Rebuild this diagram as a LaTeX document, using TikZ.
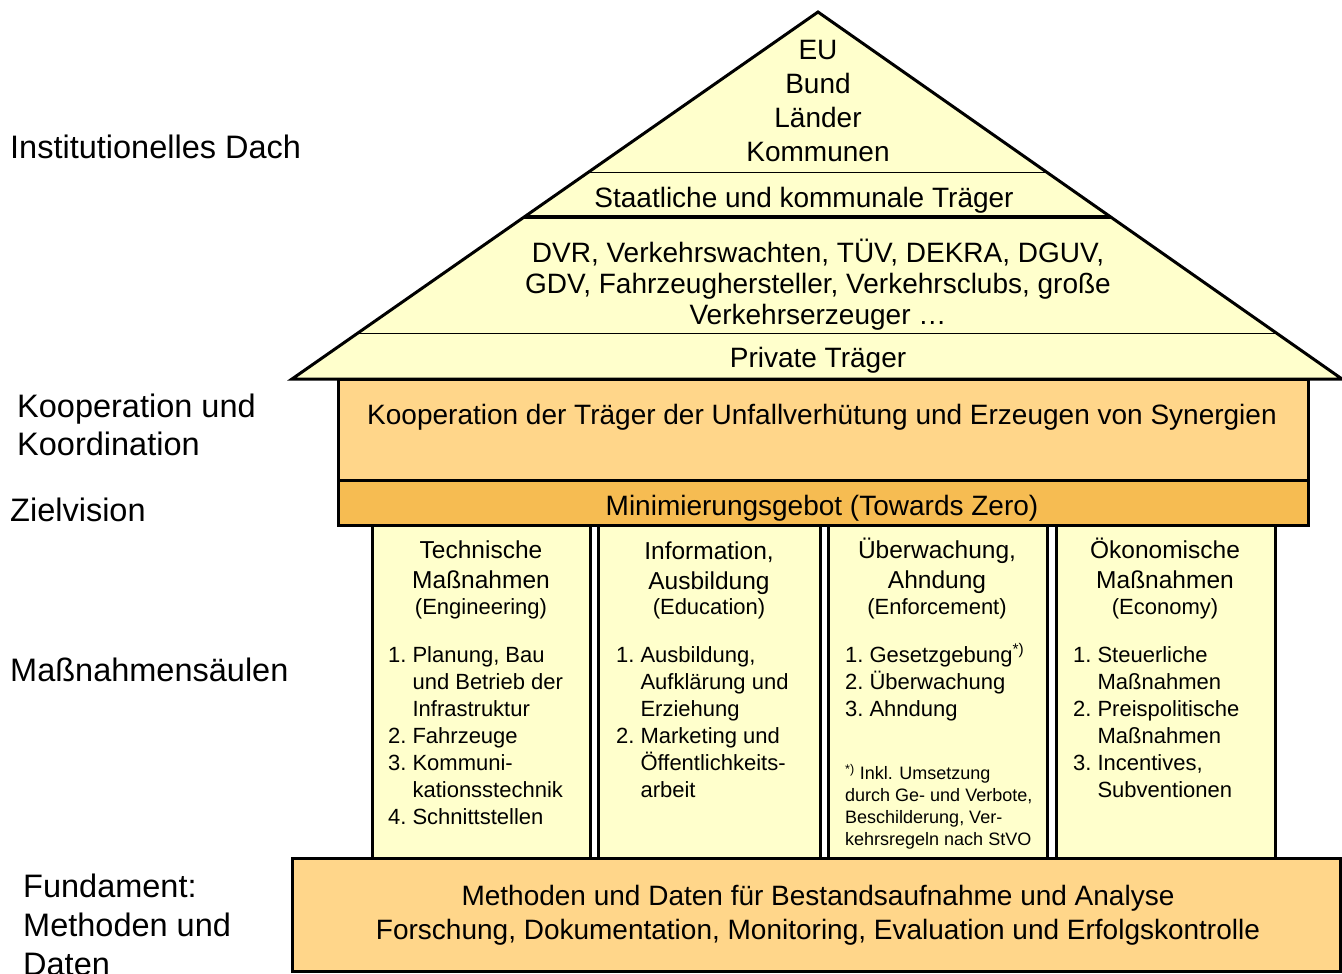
\documentclass[tikz,border=0pt]{standalone}
\usepackage{fontspec}
\setmainfont{Liberation Sans}
\usepackage{tikz}
\usetikzlibrary{positioning}
\usetikzlibrary{calc}
\definecolor{dachgelb}{HTML}{FFFFCC}
\definecolor{hellorange}{HTML}{FFD68A}
\definecolor{zielorange}{HTML}{F6BC52}
\tikzset{
  txt/.style = {inner sep=0pt, align=center,
    font=\fontsize{28}{34}\selectfont},% Text im Haus
  lbl/.style = {inner sep=0pt, anchor=west, align=left,
    font=\fontsize{32.5}{39}\selectfont},% Beschriftung links
  kopf/.style = {inner sep=0pt, align=center,
    font=\fontsize{24.5}{30}\selectfont},% Kopf der Saeule
  unterkopf/.style = {inner sep=0pt, font=\fontsize{22}{27}\selectfont},% englischer Begriff
  liste/.style = {inner sep=0pt, anchor=north west,
    font=\fontsize{22}{27}\selectfont},% Aufzaehlung
  fussnote/.style = {inner sep=0pt, anchor=north west,
    font=\fontsize{18}{22}\selectfont},% Fussnote
  saeule/.style = {draw=black, line width=3pt, fill=dachgelb},
  balken/.style = {draw=black, line width=3pt, fill=hellorange}
}
\newcommand{\pkt}[1]{\begin{tabular}{@{}l@{\hspace{6pt}}l@{}}#1\end{tabular}}

\begin{document}
\begin{tikzpicture}[x=1pt,y=-1pt]
\useasboundingbox (0,0) rectangle (1342,974);

% Dach
\coordinate (spitze) at (818,12);
\coordinate (links) at (292,379);
\coordinate (rechts) at (1342,379);
\draw[line width=3pt, fill=dachgelb] (spitze) -- (rechts) -- (links) -- cycle;
\draw[line width=1pt] ($(spitze)!0.436!(links)$) -- ($(spitze)!0.436!(rechts)$);
\draw[line width=3.5pt] ($(spitze)!0.5586!(links)$) -- ($(spitze)!0.5586!(rechts)$);
\draw[line width=1pt] ($(spitze)!0.8747!(links)$) -- ($(spitze)!0.8747!(rechts)$);

\node[txt] (ebenen) at (818,101) {EU\\Bund\\Länder\\Kommunen};
\node[txt] (staat) at (804,200) {Staatliche und kommunale Träger};
\node[txt, font=\fontsize{28}{31}\selectfont] (verbaende) at (818,285)
  {DVR, Verkehrswachten, TÜV, DEKRA, DGUV,\\GDV, Fahrzeughersteller, Verkehrsclubs, große\\Verkehrserzeuger …};
\node[txt] (privat) at (818,360) {Private Träger};

% Kooperation und Zielvision
\draw[balken] (338,379) rectangle (1308,480);
\node[txt] (koop) at (822,417) {Kooperation der Träger der Unfallverhütung und Erzeugen von Synergien};
\draw[balken, fill=zielorange] (338,480) rectangle (1308,525);
\node[txt] (ziel) at (822,508) {Minimierungsgebot (Towards Zero)};

% Saeulen
\foreach \xl/\xr in {372/590, 598/820, 828/1047, 1056/1275}
  \draw[saeule] (\xl,525) rectangle (\xr,858);

\node[kopf] (k1) at (481,565) {Technische\\Maßnahmen};
\node[unterkopf] (e1) at (481,609) {(Engineering)};
\node[kopf] (k2) at (709,568) {Information,\\Ausbildung};
\node[unterkopf] (e2) at (709,609) {(Education)};
\node[kopf] (k3) at (937,566) {Überwachung,\\Ahndung};
\node[unterkopf] (e3) at (937,609) {(Enforcement)};
\node[kopf] (k4) at (1165,563) {Ökonomische\\Maßnahmen};
\node[unterkopf] (e4) at (1165,609) {(Economy)};

\node[liste] (l1) at (388,643) {\pkt{1.&Planung, Bau\\&und Betrieb der\\&Infrastruktur\\
  2.&Fahrzeuge\\3.&Kommuni-\\&kationsstechnik\\4.&Schnittstellen}};
\node[liste] (l2) at (616,643) {\pkt{1.&Ausbildung,\\&Aufklärung und\\&Erziehung\\
  2.&Marketing und\\&Öffentlichkeits-\\&arbeit}};
\node[liste] (l3) at (845,643) {\pkt{1.&Gesetzgebung\textsuperscript{*)}\\2.&Überwachung\\3.&Ahndung}};
\node[fussnote] (fn) at (845,764) {\begin{tabular}{@{}l@{}}\textsuperscript{*)} Inkl. Umsetzung\\
  durch Ge- und Verbote,\\Beschilderung, Ver-\\kehrsregeln nach StVO\end{tabular}};
\node[liste] (l4) at (1073,643) {\pkt{1.&Steuerliche\\&Maßnahmen\\2.&Preispolitische\\&Maßnahmen\\
  3.&Incentives,\\&Subventionen}};

% Fundament
\draw[balken] (292,858) rectangle (1340,971);
\node[txt] (fund) at (818,915) {Methoden und Daten für Bestandsaufnahme und Analyse\\
  Forschung, Dokumentation, Monitoring, Evaluation und Erfolgskontrolle};

% Beschriftung links
\node[lbl] (dach) at (10,147) {Institutionelles Dach};
\node[lbl, font=\fontsize{32.5}{38}\selectfont] (koord) at (17,425) {Kooperation und\\Koordination};
\node[lbl] (vision) at (10,510) {Zielvision};
\node[lbl] (saeulen) at (10,670) {Maßnahmensäulen};
\node[lbl, anchor=north west] (fundament) at (23,874) {Fundament:\\Methoden und\\Daten};
\end{tikzpicture}
\end{document}
